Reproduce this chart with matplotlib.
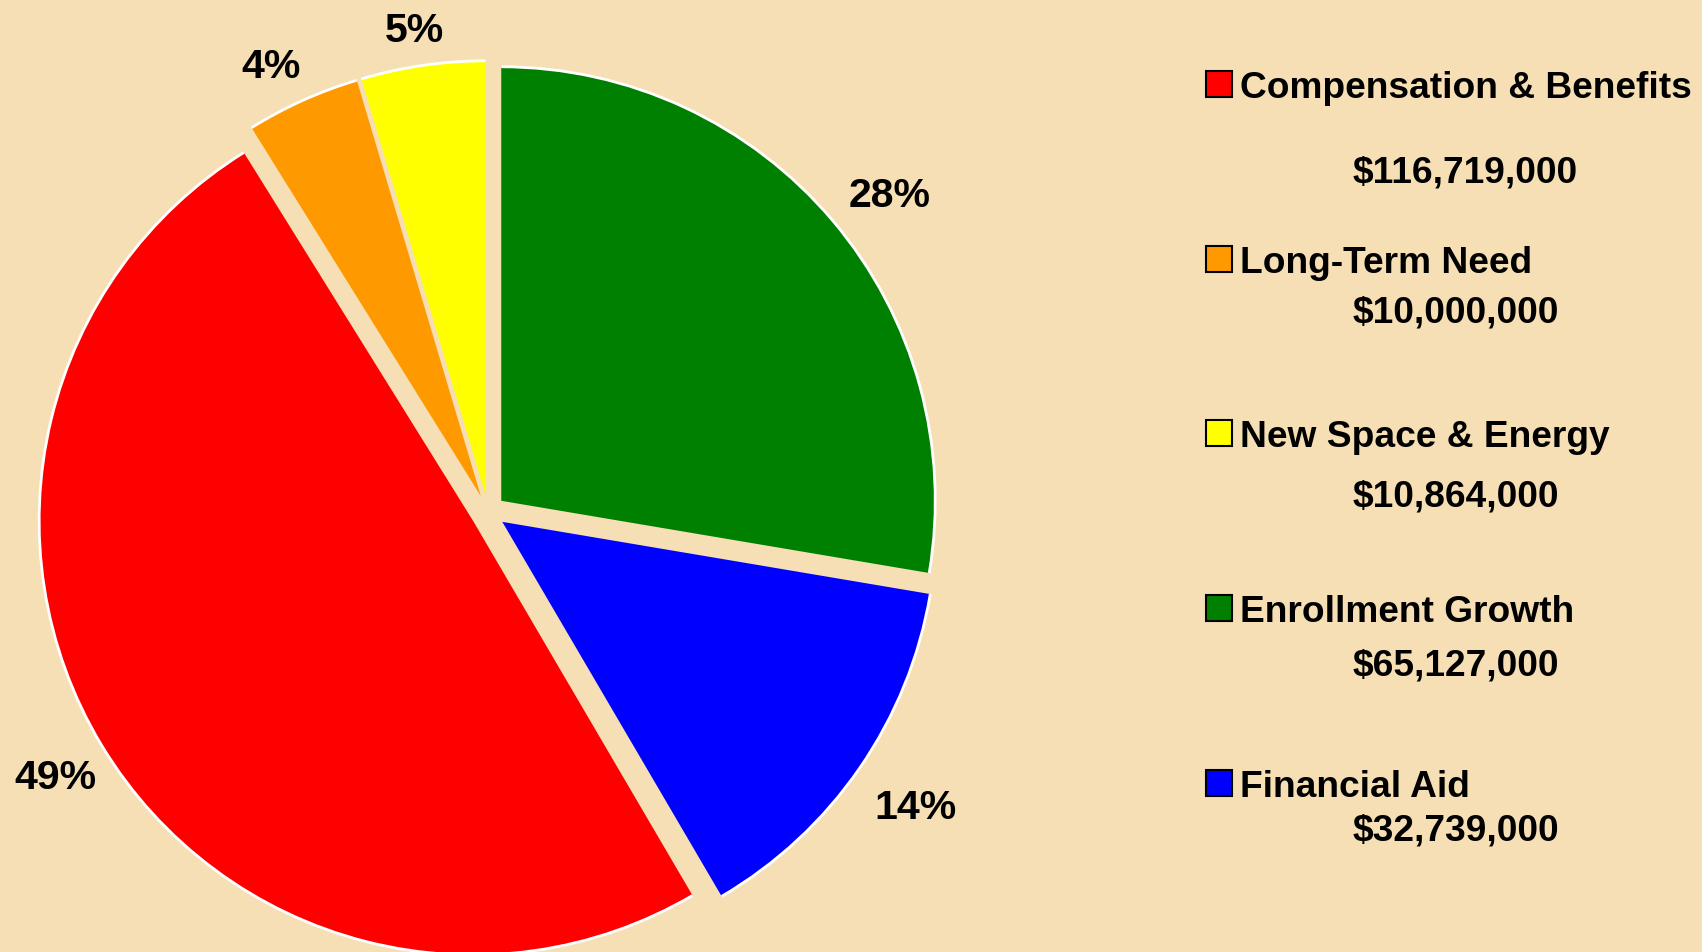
import numpy as np
import matplotlib.pyplot as plt
from matplotlib.patches import Arc, Rectangle

plt.rcParams['font.family'] = ['Liberation Sans', 'DejaVu Sans']

categories = ['Compensation & Benefits', 'Long-Term Need', 'New Space & Energy',
              'Enrollment Growth', 'Financial Aid']
amounts = [116719000, 10000000, 10864000, 65127000, 32739000]
pct_labels = ['49%', '4%', '5%', '28%', '14%']
colors = ['#FF0000', '#FF9900', '#FFFF00', '#008000', '#0000FF']
bg = '#F6DFB4'

W, H = 1702, 953
fig = plt.figure(figsize=(W / 100, H / 100), dpi=100, facecolor=bg)
ax = fig.add_axes([0, 0, 1, 1])
ax.set_facecolor(bg)

# green + blue sit clockwise from 12 o'clock, red starts right after them
total = sum(amounts)
start = 90 - 360 * (amounts[3] + amounts[4]) / total

wedges, texts = ax.pie(amounts, colors=colors, labels=pct_labels, startangle=start,
                       counterclock=False, explode=[0.04] * 5, labeldistance=1.13,
                       wedgeprops=dict(linewidth=0),
                       textprops=dict(fontsize=29.5, fontweight='bold', color='black'))

# label placement tweaks: distance (fraction of radius) and angle nudge (deg)
label_dist = [1.13, 1.103, 1.083, 1.139, 1.157]
label_turn = [0.4, 1.7, 0.4, -2.0, 0.0]
for t, w, d, a in zip(texts, wedges, label_dist, label_turn):
    th = np.radians((w.theta1 + w.theta2) / 2 + a)
    t.set_position((w.center[0] + d * w.r * np.cos(th),
                    w.center[1] + d * w.r * np.sin(th)))
    t.set_ha('center')
    t.set_va('center')

# white rim only on the outer arc
for w in wedges:
    ax.add_patch(Arc(w.center, 2 * w.r, 2 * w.r, theta1=w.theta1, theta2=w.theta2,
                     color='white', lw=2, zorder=3))

# pie centre at (488, 513) px, radius 434 px
scale = 434.0
cx, cy = 488.0, 513.0
ax.set_xlim(-cx / scale, (W - cx) / scale)
ax.set_ylim(-(H - cy) / scale, cy / scale)
ax.set_aspect('auto')
ax.axis('off')

# legend drawn by hand (baselines in px from top)
name_y = [98, 273, 447, 622, 797]
value_y = [182, 323, 507, 676, 841]
sq = 26
for name, amt, col, ny, vy in zip(categories, amounts, colors, name_y, value_y):
    fig.patches.append(Rectangle((1206 / W, 1 - ny / H), sq / W, sq / H,
                                 transform=fig.transFigure, facecolor=col,
                                 edgecolor='black', lw=1.5))
    fig.text(1240 / W, 1 - ny / H, name, fontsize=26.7, fontweight='bold',
             ha='left', va='baseline')
    fig.text(1353 / W, 1 - vy / H, '${:,}'.format(amt), fontsize=26.7,
             fontweight='bold', ha='left', va='baseline')

fig.savefig('out.png', dpi=100, facecolor=bg)
